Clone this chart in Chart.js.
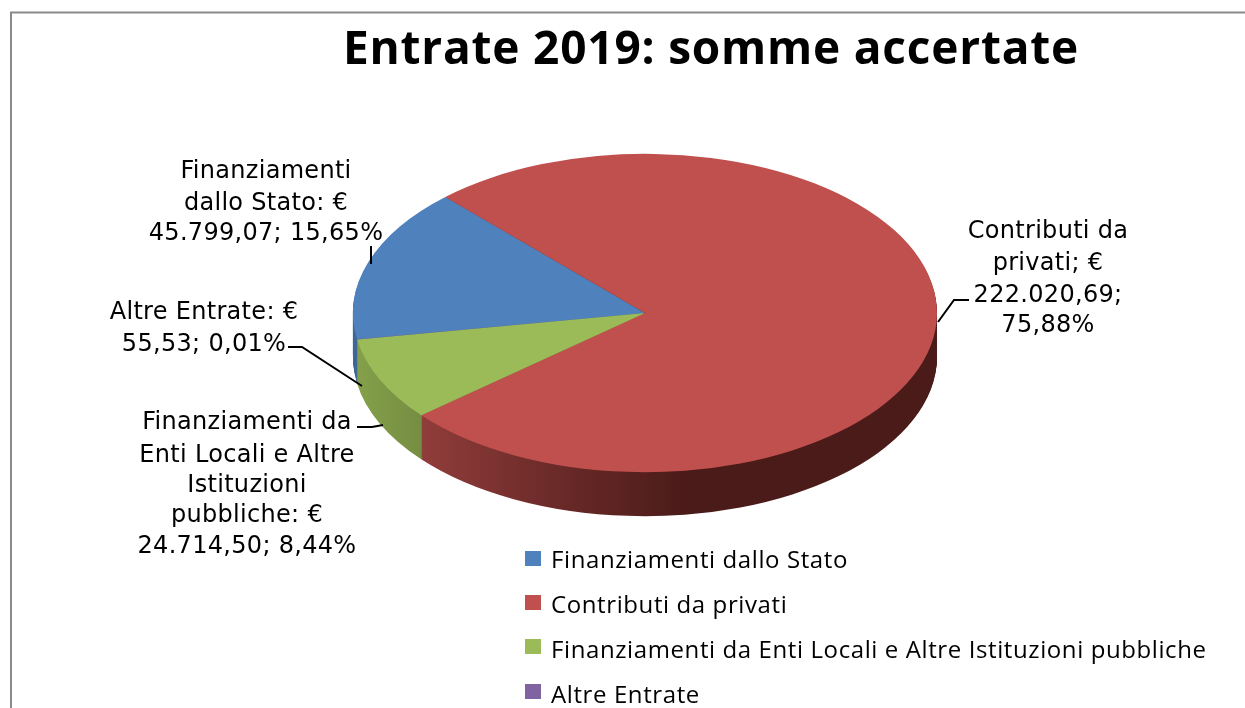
<!DOCTYPE html>
<html><head><meta charset="utf-8">
<style>html,body{margin:0;padding:0;background:#fff;overflow:hidden}canvas{display:block}</style>
<script src="https://cdn.jsdelivr.net/npm/chart.js@4"></script>
</head><body>
<div style="width:1245px;height:708px"><canvas id="c" width="1245" height="708"></canvas></div>
<script>
const chartTitle = "Entrate 2019: somme accertate";
const categories = ["Finanziamenti dallo Stato","Contributi da privati","Finanziamenti da Enti Locali e Altre Istituzioni pubbliche","Altre Entrate"];
const values = [45799.07, 222020.69, 24714.50, 55.53];
const colors = ["#4f81bd","#c0504d","#9bbb59","#8064a2"];
const labelLines = [
  ["Finanziamenti","dallo Stato: €","45.799,07; 15,65%"],
  ["Contributi da","privati; €","222.020,69;","75,88%"],
  ["Finanziamenti da","Enti Locali e Altre","Istituzioni","pubbliche: €","24.714,50; 8,44%"],
  ["Altre Entrate: €","55,53; 0,01%"]
];

const CY = 313, SY = 0.545, DEPTH = 44;
const labelPlace = [
  {x:266, ys:[178,210,240]},
  {x:1048, ys:[238,270,302,332]},
  {x:247, ys:[429,462,492,522,553]},
  {x:204, ys:[319,351]}
];
const leaders = [
  [[371,246],[371,264]],
  [[969,300],[954,300],[938,322]],
  [[357,427],[372,427],[383,425]],
  [[288,347],[302,347],[362,386]]
];
const legendY = [551,595,639,684];
const legendBase = [568,613,658,703];

const pie3d = {
  id:'pie3d',
  beforeDraw(chart){
    const c = chart.ctx;
    c.save();
    c.fillStyle='#fff'; c.fillRect(0,0,1245,708);
    c.strokeStyle='#8a8a8a'; c.lineWidth=2;
    c.beginPath(); c.moveTo(11,708); c.lineTo(11,12.5); c.lineTo(1245,12.5); c.stroke();
    c.restore();
  },
  beforeDatasetsDraw(chart){
    const c = chart.ctx, meta = chart.getDatasetMeta(0), cy0 = meta.data[0].y;
    const gRed = c.createLinearGradient(425,0,690,0);
    gRed.addColorStop(0,'#8f3c3a'); gRed.addColorStop(0.5,'#6a2a28'); gRed.addColorStop(1,'#4a1b19');
    const gGreen = c.createLinearGradient(358,0,425,0);
    gGreen.addColorStop(0,'#84a04a'); gGreen.addColorStop(1,'#748c42');
    const sides = ['#3f6897', gRed, gGreen, '#5f4a7a'];
    for(let d=DEPTH; d>=1; d--){
      meta.data.forEach((el,i)=>{
        const o = el.options;
        el.options = Object.assign({}, o, {backgroundColor:sides[i], borderWidth:0});
        c.save();
        c.translate(0, CY + d); c.scale(1,SY); c.translate(0,-cy0);
        el.draw(c);
        c.restore();
        el.options = o;
      });
    }
    c.save();
    c.translate(0, CY); c.scale(1,SY); c.translate(0,-cy0);
  },
  afterDatasetsDraw(chart){
    const c = chart.ctx;
    c.restore();
    c.save();
    c.fillStyle='#000';
    c.font='bold 46px "Open Sans"';
    c.letterSpacing='0.8px';
    c.textAlign='center'; c.textBaseline='alphabetic';
    c.fillText(chartTitle,711,64);
    c.letterSpacing='0.3px';
    c.font='24px "DejaVu Sans"';
    labelLines.forEach((ls,i)=>ls.forEach((t,j)=>c.fillText(t,labelPlace[i].x,labelPlace[i].ys[j])));
    c.strokeStyle='#000'; c.lineWidth=2;
    leaders.forEach(l=>{c.beginPath();l.forEach((p,k)=>k?c.lineTo(p[0],p[1]):c.moveTo(p[0],p[1]));c.stroke();});
    c.textAlign='left';
    c.font='24px "Open Sans"';
    c.letterSpacing='0.6px';
    categories.forEach((t,i)=>{
      c.fillStyle=colors[i]; c.fillRect(525,legendY[i],16,15);
      c.fillStyle='#000'; c.fillText(t,551,legendBase[i]);
    });
    c.restore();
  }
};

new Chart(document.getElementById('c'),{
  type:'pie',
  data:{labels:categories,datasets:[{data:values,backgroundColor:colors,borderWidth:0}]},
  options:{
    responsive:false,animation:false,
    rotation:-99.5,
    layout:{padding:{left:353,right:308,top:62,bottom:62}},
    plugins:{legend:{display:false},title:{display:false},tooltip:{enabled:false}}
  },
  plugins:[pie3d]
});
</script>
</body></html>
